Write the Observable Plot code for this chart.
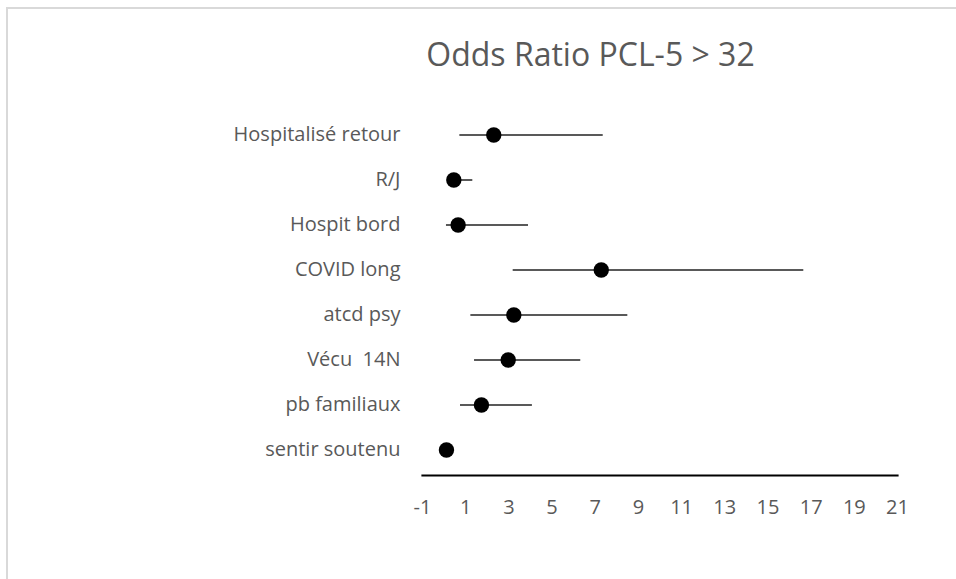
<!DOCTYPE html>
<html>
<head>
<meta charset="utf-8">
<script src="https://cdn.jsdelivr.net/npm/d3@7"></script>
<script src="https://cdn.jsdelivr.net/npm/@observablehq/plot@0.6"></script>
<style>
  html, body { margin: 0; padding: 0; background: #fff; }
  #wrap { position: relative; width: 956px; height: 579px; overflow: hidden; font-family: "Open Sans", sans-serif; }
  #border { position: absolute; left: 6px; top: 7px; width: 1000px; height: 1000px; border-left: 2px solid #d9d9d9; border-top: 2px solid #d9d9d9; box-sizing: border-box; }
  #title { position: absolute; left: 0; width: 1181px; text-align: center; top: 38px; font-size: 32px; line-height: 1; color: #595959; white-space: pre; }
  #chart { position: absolute; left: 0; top: 0; }
  svg text { white-space: pre; }
</style>
</head>
<body>
<div id="wrap">
  <div id="border"></div>
  <div id="title">Odds Ratio PCL-5 &gt; 32</div>
  <div id="chart"></div>
</div>
<script>
const categories = ["Hospitalisé retour", "R/J", "Hospit bord", "COVID long", "atcd psy", "Vécu  14N", "pb familiaux", "sentir soutenu"];
const oddsRatio = [2.30, 0.45, 0.65, 7.28, 3.23, 2.97, 1.73, 0.11];
const ciLow = [0.73, 0.25, 0.11, 3.20, 1.24, 1.41, 0.76, 0.05];
const ciHigh = [7.37, 1.33, 3.91, 16.66, 8.51, 6.33, 4.09, 0.20];
const xTicks = [-1, 1, 3, 5, 7, 9, 11, 13, 15, 17, 19, 21];

const data = categories.map((c, i) => ({cat: c, or: oddsRatio[i], lo: ciLow[i], hi: ciHigh[i]}));

const chart = Plot.plot({
  width: 956,
  height: 579,
  marginLeft: 422,
  marginRight: 59,
  marginTop: 108,
  marginBottom: 104,
  style: {fontFamily: "Open Sans", fontSize: "20px", color: "#595959", background: "transparent"},
  x: {domain: [-1, 21], ticks: xTicks},
  y: {type: "band", domain: categories, padding: 0},
  marks: [
    Plot.ruleY(data, {y: "cat", x1: "lo", x2: "hi", stroke: "#595959", strokeWidth: 2}),
    Plot.dot(data, {y: "cat", x: "or", r: 7.7, fill: "black", stroke: "none"}),
    Plot.frame({anchor: "bottom", stroke: "black", strokeWidth: 2.2}),
    Plot.axisX({ticks: xTicks, tickSize: 0, tickPadding: 24, label: null, fill: "#595959", tickFormat: d => String(d)}),
    Plot.axisY({tickSize: 0, tickPadding: 22, label: null, fill: "#595959"})
  ]
});
document.getElementById("chart").appendChild(chart);
</script>
</body>
</html>
